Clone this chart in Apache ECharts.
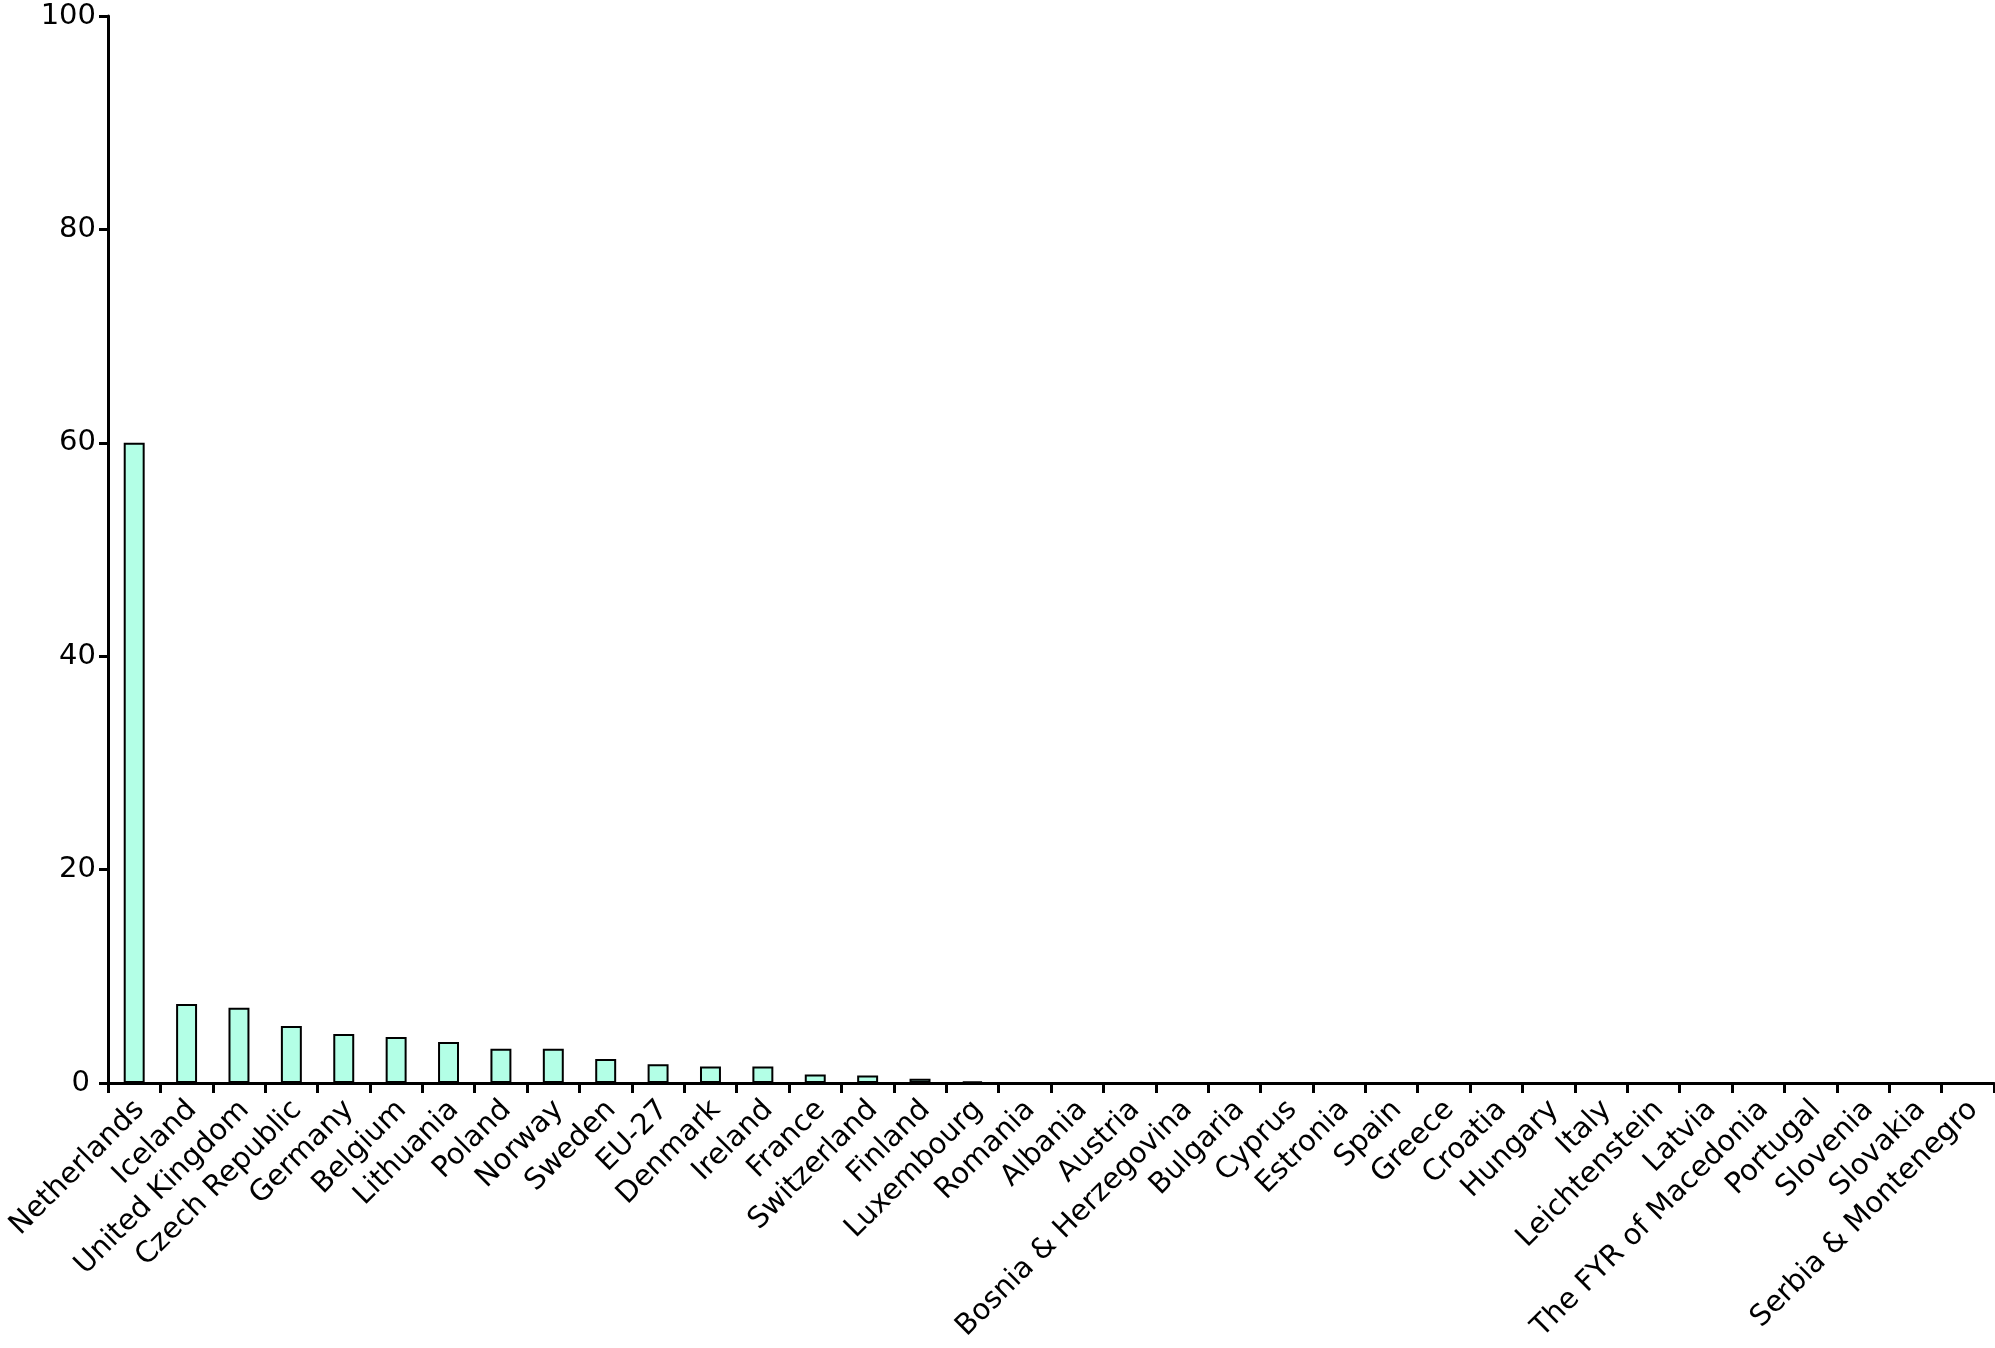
<!DOCTYPE html>
<html>
<head>
<meta charset="utf-8">
<script src="https://cdn.jsdelivr.net/npm/echarts@6/dist/echarts.min.js"></script>
<style>html,body{margin:0;padding:0;background:#fff;}#c{width:1995px;height:1348px;}</style>
</head>
<body>
<div id="c"></div>
<script>
const categories = ["Netherlands","Iceland","United Kingdom","Czech Republic","Germany","Belgium","Lithuania","Poland","Norway","Sweden","EU-27","Denmark","Ireland","France","Switzerland","Finland","Luxembourg","Romania","Albania","Austria","Bosnia & Herzegovina","Bulgaria","Cyprus","Estronia","Spain","Greece","Croatia","Hungary","Italy","Leichtenstein","Latvia","The FYR of Macedonia","Portugal","Slovenia","Slovakia","Serbia & Montenegro"];
const values = [60.0,7.4,7.05,5.35,4.6,4.3,3.85,3.2,3.2,2.25,1.75,1.55,1.55,0.8,0.7,0.4,0.15,0,0,0,0,0,0,0,0,0,0,0,0,0,0,0,0,0,0,0];
const yTicks = {min:0, max:100, interval:20};

const chart = echarts.init(document.getElementById('c'), null, {renderer:'canvas'});
const font = 'DejaVu Sans';
chart.setOption({
  animation:false,
  backgroundColor:'#ffffff',
  grid:{left:108, top:16, right:1, bottom:265, containLabel:false},
  xAxis:{
    type:'category', data:categories,
    boundaryGap:true,
    axisLine:{lineStyle:{color:'#000', width:3}},
    axisTick:{show:true, alignWithLabel:false, length:10, lineStyle:{color:'#000', width:3}},
    axisLabel:{interval:0, rotate:45, margin:28, color:'#000', fontFamily:font, fontSize:29, padding:[0,-8,0,0]},
    splitLine:{show:false}
  },
  yAxis:{
    type:'value', min:yTicks.min, max:yTicks.max, interval:yTicks.interval,
    axisLine:{show:true, lineStyle:{color:'#000', width:3}},
    axisTick:{show:true, length:9, lineStyle:{color:'#000', width:3}},
    axisLabel:{margin:12, color:'#000', fontFamily:font, fontSize:29,
      formatter: v => v === 0 ? '{z|0}' : String(v),
      rich:{z:{fontFamily:font, fontSize:29, color:'#000', padding:[0,6,0,0]}}},
    splitLine:{show:false}
  },
  series:[{
    type:'bar', data:values, barWidth:'40%',
    itemStyle:{color:'#b3ffe6', borderColor:'#000', borderWidth:2}
  }]
});
</script>
</body>
</html>
